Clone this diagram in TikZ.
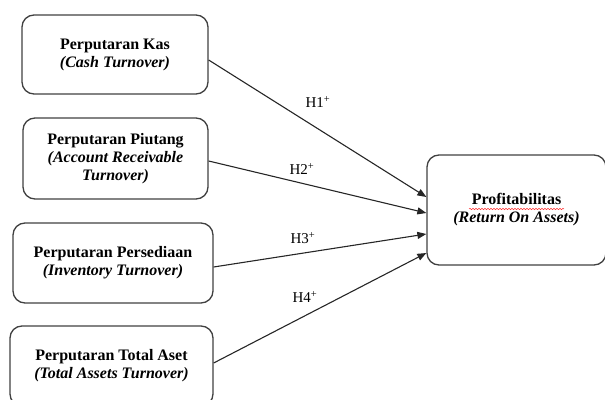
\documentclass[tikz,border=0pt]{standalone}
\usepackage{fontspec}
\setmainfont{Liberation Serif}
\usetikzlibrary{arrows.meta,decorations.pathmorphing}
\begin{document}
\begin{tikzpicture}[x=1pt,y=1pt,
  varbox/.style={draw=black!75,line width=1.3pt,rounded corners=12pt,align=center,
    font=\fontsize{16}{18}\selectfont,inner sep=0pt},
  conn/.style={draw=black!85,line width=1.1pt,-{Triangle[length=9pt,width=7pt]}},
  hlabel/.style={font=\fontsize{15}{17}\selectfont,inner sep=0pt}]
\useasboundingbox (0,0) rectangle (605,399);
\node[varbox,minimum width=186,minimum height=79] (b1) at (115,344.5)
  {\textbf{Perputaran Kas}\\\textbf{\textit{(Cash Turnover)}}};
\node[varbox,minimum width=185,minimum height=81] (b2) at (115.5,240.5)
  {\textbf{Perputaran Piutang}\\\textbf{\textit{(Account Receivable}}\\\textbf{\textit{Turnover)}}};
\node[varbox,minimum width=200,minimum height=80] (b3) at (113,136)
  {\textbf{Perputaran Persediaan}\\\textbf{\textit{(Inventory Turnover)}}};
\node[varbox,minimum width=203,minimum height=80] (b4) at (111.5,33)
  {\textbf{Perputaran Total Aset}\\\textbf{\textit{(Total Assets Turnover)}}};
\node[varbox,minimum width=179,minimum height=110] (p) at (516.5,189)
  {\textbf{Profitabilitas}\\\textbf{\textit{(Return On Assets)}}};
\coordinate (ul1) at (469,190);
\coordinate (ul2) at (564,190);
\draw[red!80,line width=0.5pt,decorate,decoration={snake,amplitude=0.7pt,segment length=3pt}] (ul1) -- (ul2);
\draw[conn] ([yshift=-5.5pt]b1.east) -- ([yshift=13pt]p.west);
\draw[conn] ([yshift=-2.5pt]b2.east) -- ([yshift=-3pt]p.west);
\draw[conn] ([yshift=-4pt]b3.east) -- ([yshift=-24pt]p.west);
\draw[conn] ([yshift=3pt]b4.east) -- ([yshift=-43pt]p.west);
\node[hlabel] (h1) at (318,297) {H1\textsuperscript{+}};
\node[hlabel] (h2) at (302,230) {H2\textsuperscript{+}};
\node[hlabel] (h3) at (303,161) {H3\textsuperscript{+}};
\node[hlabel] (h4) at (305,102) {H4\textsuperscript{+}};
\end{tikzpicture}
\end{document}
